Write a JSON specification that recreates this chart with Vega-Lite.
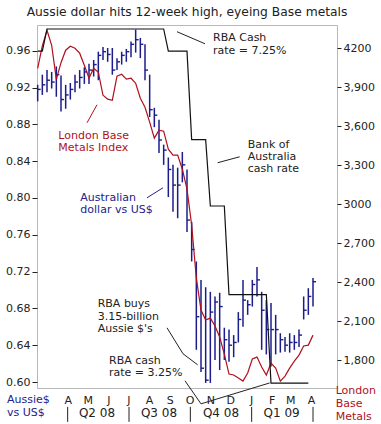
{
  "$schema": "https://vega.github.io/schema/vega-lite/v6.json",
  "width": 300,
  "height": 363,
  "autosize": {"type": "none"},
  "padding": {"left": 37, "top": 25, "right": 44, "bottom": 36},
  "background": "white",
  "title": {"text": "Aussie dollar hits 12-week high, eyeing Base metals", "fontSize": 12.3, "fontWeight": "normal", "font": "DejaVu Sans", "color": "#222222", "offset": 7, "anchor": "middle"},
  "config": {"view": {"stroke": "#b8b8b8"}, "font": "DejaVu Sans"},
  "datasets": {
    "w": [
      {"d":"2008-02-19","hi":0.923,"lo":0.905,"cl":0.918,"lme":4046,"cash":7.00},
      {"d":"2008-02-26","hi":0.934,"lo":0.912,"cl":0.923,"lme":4219,"cash":7.00},
      {"d":"2008-03-04","hi":0.939,"lo":0.915,"cl":0.928,"lme":4338,"cash":7.25},
      {"d":"2008-03-11","hi":0.937,"lo":0.919,"cl":0.926,"lme":4223,"cash":7.25},
      {"d":"2008-03-18","hi":0.943,"lo":0.910,"cl":0.934,"lme":3960,"cash":7.25},
      {"d":"2008-03-25","hi":0.933,"lo":0.894,"cl":0.907,"lme":4089,"cash":7.25},
      {"d":"2008-04-01","hi":0.923,"lo":0.897,"cl":0.912,"lme":4185,"cash":7.25},
      {"d":"2008-04-08","hi":0.925,"lo":0.907,"cl":0.918,"lme":4215,"cash":7.25},
      {"d":"2008-04-15","hi":0.934,"lo":0.915,"cl":0.926,"lme":4200,"cash":7.25},
      {"d":"2008-04-22","hi":0.939,"lo":0.919,"cl":0.931,"lme":4162,"cash":7.25},
      {"d":"2008-04-29","hi":0.942,"lo":0.924,"cl":0.937,"lme":4069,"cash":7.25},
      {"d":"2008-05-06","hi":0.946,"lo":0.924,"cl":0.939,"lme":3969,"cash":7.25},
      {"d":"2008-05-13","hi":0.950,"lo":0.932,"cl":0.945,"lme":4046,"cash":7.25},
      {"d":"2008-05-20","hi":0.959,"lo":0.928,"cl":0.955,"lme":4015,"cash":7.25},
      {"d":"2008-05-27","hi":0.964,"lo":0.950,"cl":0.959,"lme":3838,"cash":7.25},
      {"d":"2008-06-03","hi":0.963,"lo":0.948,"cl":0.956,"lme":3808,"cash":7.25},
      {"d":"2008-06-10","hi":0.963,"lo":0.934,"cl":0.939,"lme":3800,"cash":7.25},
      {"d":"2008-06-17","hi":0.952,"lo":0.939,"cl":0.948,"lme":3985,"cash":7.25},
      {"d":"2008-06-24","hi":0.959,"lo":0.945,"cl":0.955,"lme":4000,"cash":7.25},
      {"d":"2008-07-01","hi":0.962,"lo":0.948,"cl":0.959,"lme":3962,"cash":7.25},
      {"d":"2008-07-08","hi":0.970,"lo":0.953,"cl":0.967,"lme":3969,"cash":7.25},
      {"d":"2008-07-15","hi":0.983,"lo":0.958,"cl":0.972,"lme":3931,"cash":7.25},
      {"d":"2008-07-22","hi":0.974,"lo":0.952,"cl":0.967,"lme":3815,"cash":7.25},
      {"d":"2008-07-29","hi":0.967,"lo":0.928,"cl":0.939,"lme":3746,"cash":7.25},
      {"d":"2008-08-05","hi":0.934,"lo":0.888,"cl":0.896,"lme":3631,"cash":7.25},
      {"d":"2008-08-12","hi":0.898,"lo":0.877,"cl":0.890,"lme":3508,"cash":7.25},
      {"d":"2008-08-19","hi":0.885,"lo":0.849,"cl":0.863,"lme":3569,"cash":7.25},
      {"d":"2008-08-26","hi":0.858,"lo":0.836,"cl":0.852,"lme":3562,"cash":7.25},
      {"d":"2008-09-02","hi":0.844,"lo":0.801,"cl":0.831,"lme":3423,"cash":7.00},
      {"d":"2008-09-09","hi":0.836,"lo":0.785,"cl":0.814,"lme":3377,"cash":7.00},
      {"d":"2008-09-16","hi":0.833,"lo":0.778,"cl":0.814,"lme":3377,"cash":7.00},
      {"d":"2008-09-23","hi":0.850,"lo":0.817,"cl":0.836,"lme":3269,"cash":7.00},
      {"d":"2008-09-30","hi":0.831,"lo":0.763,"cl":0.776,"lme":3115,"cash":7.00},
      {"d":"2008-10-07","hi":0.774,"lo":0.731,"cl":0.744,"lme":2838,"cash":6.00},
      {"d":"2008-10-14","hi":0.731,"lo":0.635,"cl":0.671,"lme":2431,"cash":6.00},
      {"d":"2008-10-21","hi":0.711,"lo":0.611,"cl":0.615,"lme":2185,"cash":6.00},
      {"d":"2008-10-28","hi":0.703,"lo":0.599,"cl":0.602,"lme":2108,"cash":6.00},
      {"d":"2008-11-04","hi":0.698,"lo":0.599,"cl":0.676,"lme":2123,"cash":5.25},
      {"d":"2008-11-11","hi":0.693,"lo":0.624,"cl":0.687,"lme":2062,"cash":5.25},
      {"d":"2008-11-18","hi":0.697,"lo":0.613,"cl":0.682,"lme":1977,"cash":5.25},
      {"d":"2008-11-25","hi":0.659,"lo":0.624,"cl":0.646,"lme":1846,"cash":5.25},
      {"d":"2008-12-02","hi":0.657,"lo":0.622,"cl":0.640,"lme":1692,"cash":4.25},
      {"d":"2008-12-09","hi":0.651,"lo":0.627,"cl":0.643,"lme":1685,"cash":4.25},
      {"d":"2008-12-16","hi":0.676,"lo":0.643,"cl":0.668,"lme":1662,"cash":4.25},
      {"d":"2008-12-23","hi":0.711,"lo":0.660,"cl":0.689,"lme":1638,"cash":4.25},
      {"d":"2008-12-30","hi":0.689,"lo":0.673,"cl":0.684,"lme":1700,"cash":4.25},
      {"d":"2009-01-06","hi":0.711,"lo":0.682,"cl":0.706,"lme":1808,"cash":4.25},
      {"d":"2009-01-13","hi":0.725,"lo":0.693,"cl":0.711,"lme":1823,"cash":4.25},
      {"d":"2009-01-20","hi":0.698,"lo":0.635,"cl":0.678,"lme":1746,"cash":4.25},
      {"d":"2009-01-27","hi":0.689,"lo":0.630,"cl":0.657,"lme":1685,"cash":4.25},
      {"d":"2009-02-03","hi":0.686,"lo":0.617,"cl":0.657,"lme":1777,"cash":3.25},
      {"d":"2009-02-10","hi":0.673,"lo":0.630,"cl":0.657,"lme":1738,"cash":3.25},
      {"d":"2009-02-17","hi":0.653,"lo":0.632,"cl":0.646,"lme":1638,"cash":3.25},
      {"d":"2009-02-24","hi":0.649,"lo":0.633,"cl":0.640,"lme":1677,"cash":3.25},
      {"d":"2009-03-03","hi":0.653,"lo":0.632,"cl":0.643,"lme":1738,"cash":3.25},
      {"d":"2009-03-10","hi":0.651,"lo":0.635,"cl":0.643,"lme":1792,"cash":3.25},
      {"d":"2009-03-17","hi":0.657,"lo":0.638,"cl":0.651,"lme":1838,"cash":3.25},
      {"d":"2009-03-24","hi":0.693,"lo":0.668,"cl":0.678,"lme":1908,"cash":3.25},
      {"d":"2009-03-31","hi":0.702,"lo":0.673,"cl":0.693,"lme":1915,"cash":3.25},
      {"d":"2009-04-07","hi":0.713,"lo":0.682,"cl":0.709,"lme":1992,"cash":null}
    ],
    "notes": [
      {"t":"RBA Cash","d":"2008-11-08","v":0.9741,"s":"note"},
      {"t":"rate = 7.25%","d":"2008-11-08","v":0.9595,"s":"note"},
      {"t":"Bank of","d":"2008-12-30","v":0.8578,"s":"note"},
      {"t":"Australia","d":"2008-12-30","v":0.8442,"s":"note"},
      {"t":"cash rate","d":"2008-12-30","v":0.8312,"s":"note"},
      {"t":"London Base","d":"2008-03-21","v":0.8676,"s":"lme"},
      {"t":"Metals Index","d":"2008-03-21","v":0.854,"s":"lme"},
      {"t":"Australian","d":"2008-04-23","v":0.8002,"s":"aud"},
      {"t":"dollar vs US$","d":"2008-04-23","v":0.7872,"s":"aud"},
      {"t":"RBA buys","d":"2008-05-19","v":0.685,"s":"note"},
      {"t":"3.15-billion","d":"2008-05-19","v":0.6709,"s":"note"},
      {"t":"Aussie $'s","d":"2008-05-19","v":0.6573,"s":"note"},
      {"t":"RBA cash","d":"2008-06-05","v":0.6225,"s":"note"},
      {"t":"rate = 3.25%","d":"2008-06-05","v":0.6095,"s":"note"}
    ],
    "corner": [
      {"t":"Aussie$","d":"2008-01-04","v":0.5801,"s":"aud"},
      {"t":"vs US$","d":"2008-01-04","v":0.5665,"s":"aud"},
      {"t":"London","d":"2009-05-11","v":0.5898,"s":"lme"},
      {"t":"Base","d":"2009-05-11","v":0.5758,"s":"lme"},
      {"t":"Metals","d":"2009-05-11","v":0.5622,"s":"lme"}
    ],
    "leaders": [
      {"id":"a","d":"2008-09-15","v":0.9807,"s":"note"},
      {"id":"a","d":"2008-10-27","v":0.9676,"s":"note"},
      {"id":"b","d":"2008-11-15","v":0.8383,"s":"note"},
      {"id":"b","d":"2008-12-18","v":0.8448,"s":"note"},
      {"id":"c","d":"2008-05-03","v":0.8817,"s":"lme"},
      {"id":"c","d":"2008-05-18","v":0.9013,"s":"lme"},
      {"id":"d","d":"2008-08-01","v":0.8002,"s":"aud"},
      {"id":"d","d":"2008-08-25","v":0.8111,"s":"aud"},
      {"id":"e","d":"2008-08-31","v":0.6589,"s":"note"},
      {"id":"e","d":"2008-09-24","v":0.6307,"s":"note"},
      {"id":"e","d":"2008-10-16","v":0.6187,"s":"note"},
      {"id":"f","d":"2008-09-27","v":0.6013,"s":"note"},
      {"id":"f","d":"2008-10-21","v":0.5763,"s":"note"},
      {"id":"f","d":"2009-02-01","v":0.599,"s":"note"}
    ],
    "quarters": [
      {"q":"Q2 08","d":"2008-05-18","v":0.5665},
      {"q":"Q3 08","d":"2008-08-19","v":0.5665},
      {"q":"Q4 08","d":"2008-11-20","v":0.5665},
      {"q":"Q1 09","d":"2009-02-19","v":0.5665}
    ],
    "seps": [
      {"d":"2008-04-04","v":0.573,"v2":0.5567},
      {"d":"2008-07-05","v":0.573,"v2":0.5567},
      {"d":"2008-10-05","v":0.573,"v2":0.5567},
      {"d":"2009-01-05","v":0.573,"v2":0.5567},
      {"d":"2009-04-07","v":0.573,"v2":0.5567}
    ]
  },
  "encoding": {
    "x": {
      "field": "d", "type": "temporal",
      "scale": {"domain": [{"year": 2008, "month": 2, "date": 18}, {"year": 2009, "month": 5, "date": 13}], "nice": false},
      "axis": {
        "values": [
          {"year": 2008, "month": 4, "date": 1}, {"year": 2008, "month": 5, "date": 1}, {"year": 2008, "month": 6, "date": 1},
          {"year": 2008, "month": 7, "date": 1}, {"year": 2008, "month": 8, "date": 1}, {"year": 2008, "month": 9, "date": 1},
          {"year": 2008, "month": 10, "date": 1}, {"year": 2008, "month": 11, "date": 1}, {"year": 2008, "month": 12, "date": 1},
          {"year": 2009, "month": 1, "date": 1}, {"year": 2009, "month": 2, "date": 1}, {"year": 2009, "month": 3, "date": 1},
          {"year": 2009, "month": 4, "date": 1}
        ],
        "labelExpr": "substring(timeFormat(datum.value, '%B'), 0, 1)",
        "ticks": false, "domain": false, "grid": false, "title": null,
        "labelFontSize": 11, "labelColor": "#222222", "labelPadding": 6, "labelOffset": 2,
        "labelOverlap": false, "labelFlush": false
      }
    }
  },
  "layer": [
    {
      "data": {"name": "w"},
      "mark": {"type": "rule", "color": "#1c1c8c", "strokeWidth": 1.5},
      "encoding": {
        "y": {
          "field": "hi", "type": "quantitative",
          "scale": {"domain": [0.5935, 0.988], "nice": false, "zero": false},
          "axis": {
            "orient": "left",
            "values": [0.60, 0.64, 0.68, 0.72, 0.76, 0.80, 0.84, 0.88, 0.92, 0.96],
            "format": ".2f", "title": null, "grid": false, "domain": false,
            "tickSize": 5, "tickColor": "#222222", "labelPadding": 2,
            "labelFontSize": 11, "labelColor": "#222222"
          }
        },
        "y2": {"field": "lo"}
      }
    },
    {
      "data": {"name": "w"},
      "mark": {"type": "point", "shape": "M0,0H1", "filled": false, "size": 36, "strokeWidth": 1.4, "color": "#1c1c8c", "opacity": 1},
      "encoding": {
        "y": {"field": "cl", "type": "quantitative", "scale": {"domain": [0.5935, 0.988], "nice": false, "zero": false}, "axis": null}
      }
    },
    {
      "data": {"name": "leaders"},
      "mark": {"type": "line", "strokeWidth": 1},
      "encoding": {
        "y": {"field": "v", "type": "quantitative", "scale": {"domain": [0.5935, 0.988], "nice": false, "zero": false}, "axis": null},
        "detail": {"field": "id"},
        "color": {"field": "s", "type": "nominal", "scale": {"domain": ["aud", "lme", "note"], "range": ["#22228a", "#b0101c", "#222222"]}, "legend": null}
      }
    },
    {
      "data": {"name": "notes"},
      "mark": {"type": "text", "align": "left", "baseline": "middle", "fontSize": 11},
      "encoding": {
        "y": {"field": "v", "type": "quantitative", "scale": {"domain": [0.5935, 0.988], "nice": false, "zero": false}, "axis": null},
        "text": {"field": "t"},
        "color": {"field": "s", "type": "nominal", "scale": {"domain": ["aud", "lme", "note"], "range": ["#22228a", "#b0101c", "#222222"]}, "legend": null}
      }
    },
    {
      "data": {"name": "corner"},
      "mark": {"type": "text", "align": "left", "baseline": "middle", "fontSize": 11},
      "encoding": {
        "y": {"field": "v", "type": "quantitative", "scale": {"domain": [0.5935, 0.988], "nice": false, "zero": false}, "axis": null},
        "text": {"field": "t"},
        "color": {"field": "s", "type": "nominal", "scale": {"domain": ["aud", "lme", "note"], "range": ["#22228a", "#b0101c", "#222222"]}, "legend": null}
      }
    },
    {
      "data": {"name": "quarters"},
      "mark": {"type": "text", "align": "center", "baseline": "middle", "fontSize": 12, "color": "#222222"},
      "encoding": {
        "y": {"field": "v", "type": "quantitative", "scale": {"domain": [0.5935, 0.988], "nice": false, "zero": false}, "axis": null},
        "text": {"field": "q"}
      }
    },
    {
      "data": {"name": "seps"},
      "mark": {"type": "rule", "color": "#222222", "strokeWidth": 1},
      "encoding": {
        "y": {"field": "v", "type": "quantitative", "scale": {"domain": [0.5935, 0.988], "nice": false, "zero": false}, "axis": null},
        "y2": {"field": "v2"}
      }
    },
    {
      "data": {"name": "w"},
      "mark": {"type": "line", "color": "#b0101c", "strokeWidth": 1.2},
      "encoding": {
        "y": {
          "field": "lme", "type": "quantitative",
          "scale": {"domain": [1585, 4379], "nice": false, "zero": false},
          "axis": {
            "orient": "right",
            "values": [1800, 2100, 2400, 2700, 3000, 3300, 3600, 3900, 4200],
            "labelExpr": "datum.value == 4200 || datum.value == 3000 ? '' + datum.value : format(datum.value, ',')",
            "title": null, "grid": false, "domain": false,
            "tickSize": 4, "tickColor": "#222222", "labelPadding": 2,
            "labelFontSize": 11, "labelColor": "#222222"
          }
        }
      }
    },
    {
      "data": {"name": "w"},
      "mark": {"type": "line", "color": "#111111", "strokeWidth": 1.2},
      "encoding": {
        "y": {"field": "cash", "type": "quantitative", "scale": {"domain": [3.194, 7.295], "nice": false, "zero": false}, "axis": null}
      }
    }
  ],
  "resolve": {"scale": {"y": "independent"}}
}
